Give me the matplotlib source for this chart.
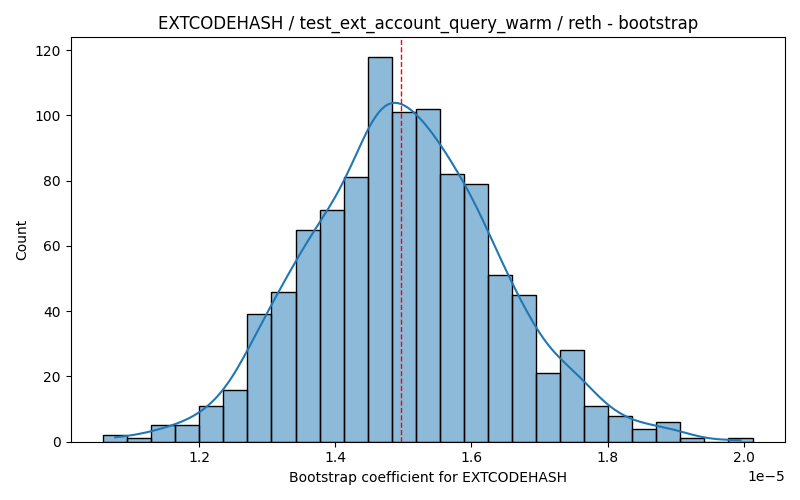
import numpy as np
import matplotlib
matplotlib.use("Agg")
import matplotlib.pyplot as plt
import seaborn as sns

# histogram (values in units of 1e-5)
bin_lo = 1.059e-5
bin_hi = 2.013e-5
counts = [2, 1, 5, 5, 11, 16, 39, 46, 65, 71, 81, 118, 101, 102,
          82, 79, 51, 45, 21, 28, 11, 8, 4, 6, 1, 0, 1]
mean_value = 1.4965e-5

title = "EXTCODEHASH / test_ext_account_query_warm / reth - bootstrap"
xlabel = "Bootstrap coefficient for EXTCODEHASH"

edges = np.linspace(bin_lo, bin_hi, len(counts) + 1)
centers = (edges[:-1] + edges[1:]) / 2
samples = np.repeat(centers, counts)

fig, ax = plt.subplots(figsize=(8, 5), dpi=100)
sns.histplot(samples, bins=edges, kde=True, ax=ax)
ax.axvline(mean_value, color="red", linestyle="--", linewidth=1)

ax.set_title(title)
ax.set_xlabel(xlabel)
ax.set_ylabel("Count")
plt.tight_layout()
fig.savefig("out.png")
